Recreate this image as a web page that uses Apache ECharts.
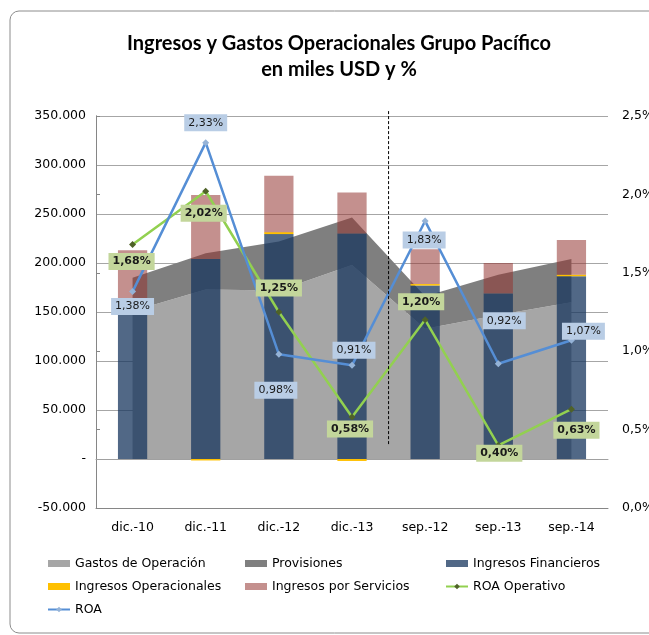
<!DOCTYPE html>
<html>
<head>
<meta charset="utf-8">
<script src="https://cdn.jsdelivr.net/npm/echarts@6/dist/echarts.min.js"></script>
<style>
  html, body { margin: 0; padding: 0; background: #fff; }
  #chart { width: 649px; height: 635px; }
</style>
</head>
<body>
<div id="chart"></div>
<script>
// datos (miles USD y %)
const categories = ["dic.-10", "dic.-11", "dic.-12", "dic.-13", "sep.-12", "sep.-13", "sep.-14"];
const gastosOperacion = [151000, 173000, 172000, 198000, 133000, 147000, 160000];
const provisiones = [34000, 37000, 50000, 48500, 33000, 41000, 44000];
const ingresosFinancieros = [150000, 204000, 229500, 230000, 177000, 169000, 186500];
const ingresosOperacionales = [0, -1500, 2000, -2000, 1500, 0, 1500];
const ingresosServicios = [63000, 65500, 57500, 42000, 35500, 31000, 35500];
const roaOperativo = [1.68, 2.02, 1.25, 0.58, 1.20, 0.40, 0.63];
const roa = [1.38, 2.33, 0.98, 0.91, 1.83, 0.92, 1.07];
// separador entre cierres anuales y septiembres (índice de categoría)
const separador = [[4, 355000], [4, 14000]];

const FONT = "DejaVu Sans";

// desplazamiento de cada etiqueta respecto al punto
const roaOffsets = [[0, 15], [0, -20], [-3, 36], [2, -15], [-1, 19], [6, -43], [12, -9]];
const roaOpOffsets = [[-1, 17], [-2, 22], [0, -24], [-2, 12], [-4, -18], [1, 8], [5, 21]];

const pct = (v, d) => v.toFixed(d).replace(".", ",") + "%";
const miles = (v) => {
  if (v === 0) return "-";
  const s = Math.abs(v).toString().replace(/\B(?=(\d{3})+(?!\d))/g, ".");
  return (v < 0 ? "-" : "") + s;
};

const lineData = (vals, offsets, bg, bold) =>
  vals.map((v, i) => ({
    value: v,
    label: {
      show: true,
      position: "inside",
      offset: offsets[i],
      formatter: () => pct(v, 2),
      backgroundColor: bg,
      padding: [3, 4],
      fontFamily: FONT,
      fontSize: 11,
      fontWeight: bold ? "bold" : "normal",
      color: "#1a1a1a",
    },
  }));

const chart = echarts.init(document.getElementById("chart"), null, { renderer: "canvas" });

const legendBase = {
  orient: "vertical",
  top: 551,
  itemWidth: 22,
  itemHeight: 7,
  itemGap: 8,
  textStyle: { fontFamily: FONT, fontSize: 12.5, color: "#000", lineHeight: 15 },
};

chart.setOption({
  animation: false,
  backgroundColor: "#fff",
  graphic: [
    {
      type: "rect",
      shape: { x: 10, y: 11, width: 700, height: 622, r: 9 },
      style: { fill: "none", stroke: "#8c8c8c", lineWidth: 1 },
      silent: true,
    },
  ],
  title: {
    text: "Ingresos y Gastos Operacionales Grupo Pacífico\nen miles USD y %",
    left: 334,
    top: 26,
    textAlign: "center",
    textStyle: { fontFamily: "Lato", fontWeight: "bold", fontSize: 20, lineHeight: 26, color: "#000" },
  },
  legend: [
    Object.assign({}, legendBase, {
      left: 42,
      data: [
        { name: "Gastos de Operación", icon: "rect" },
        { name: "Ingresos Operacionales", icon: "rect" },
        { name: "ROA" },
      ],
    }),
    Object.assign({}, legendBase, {
      left: 240,
      data: [
        { name: "Provisiones", icon: "rect" },
        { name: "Ingresos por Servicios", icon: "rect" },
      ],
    }),
    Object.assign({}, legendBase, {
      left: 440,
      data: [
        { name: "Ingresos Financieros", icon: "rect" },
        { name: "ROA Operativo" },
      ],
    }),
  ],
  grid: { left: 96, right: 41, top: 116, bottom: 127, containLabel: false, outerBoundsMode: "none" },
  xAxis: [
    {
      type: "category",
      data: categories,
      axisLine: { onZero: true, lineStyle: { color: "#a0a0a0" } },
      axisTick: { show: false },
      axisLabel: { fontFamily: FONT, fontSize: 12.5, color: "#000", margin: 13 },
    },
    {
      type: "value",
      min: 0,
      max: 7,
      position: "bottom",
      axisLine: { show: true, onZero: false, lineStyle: { color: "#868686" } },
      axisTick: { show: false },
      axisLabel: { show: false },
      splitLine: { show: false },
    },
  ],
  yAxis: [
    {
      type: "value",
      min: -50000,
      max: 350000,
      interval: 50000,
      axisLine: { show: true, onZero: false, lineStyle: { color: "#868686" } },
      axisTick: { show: false },
      axisLabel: { fontFamily: FONT, fontSize: 12.5, color: "#000", margin: 10, formatter: miles },
      splitLine: { lineStyle: { color: "#a6a6a6" } },
    },
    {
      type: "value",
      min: 0,
      max: 2.5,
      interval: 0.5,
      position: "right",
      axisLine: { show: true, lineStyle: { color: "#868686" } },
      axisTick: { show: true, length: 4, lineStyle: { color: "#868686" } },
      axisLabel: { fontFamily: FONT, fontSize: 12.5, color: "#000", margin: 14, formatter: (v) => pct(v, 1) },
      splitLine: { show: false },
    },
  ],
  series: [
    {
      name: "Gastos de Operación",
      type: "line",
      stack: "gastos",
      data: gastosOperacion,
      symbol: "none",
      lineStyle: { width: 0 },
      itemStyle: { color: "#a6a6a6" },
      areaStyle: { color: "#a6a6a6", opacity: 1 },
      z: 1,
    },
    {
      name: "Provisiones",
      type: "line",
      stack: "gastos",
      data: provisiones,
      symbol: "none",
      lineStyle: { width: 0 },
      itemStyle: { color: "#7f7f7f" },
      areaStyle: { color: "#7f7f7f", opacity: 1 },
      z: 1,
    },
    {
      name: "Ingresos Financieros",
      type: "bar",
      stack: "ingresos",
      barWidth: "40%",
      data: ingresosFinancieros,
      itemStyle: { color: "rgba(23,54,93,0.75)" },
      z: 2,
    },
    {
      name: "Ingresos Operacionales",
      type: "bar",
      stack: "ingresos",
      barWidth: "40%",
      data: ingresosOperacionales,
      itemStyle: { color: "#ffc000" },
      z: 2,
    },
    {
      name: "Ingresos por Servicios",
      type: "bar",
      stack: "ingresos",
      barWidth: "40%",
      data: ingresosServicios,
      itemStyle: { color: "rgba(148,52,50,0.55)" },
      z: 2,
    },
    {
      name: "ROA Operativo",
      type: "line",
      yAxisIndex: 1,
      data: lineData(roaOperativo, roaOpOffsets, "#c3d69b", true),
      symbol: "diamond",
      symbolSize: 7,
      lineStyle: { color: "#92d050", width: 2.5 },
      itemStyle: { color: "#4f6228" },
      z: 3,
    },
    {
      name: "ROA",
      type: "line",
      yAxisIndex: 1,
      data: lineData(roa, roaOffsets, "#b9cde5", false),
      symbol: "diamond",
      symbolSize: 7,
      lineStyle: { color: "#558ed5", width: 2.5 },
      itemStyle: { color: "#95b3d7" },
      z: 3,
    },
    {
      name: "separador",
      type: "line",
      xAxisIndex: 1,
      yAxisIndex: 0,
      data: separador,
      symbol: "none",
      clip: false,
      silent: true,
      lineStyle: { color: "#000", width: 1, type: [3, 2] },
      z: 4,
    },
  ],
});
</script>
</body>
</html>
